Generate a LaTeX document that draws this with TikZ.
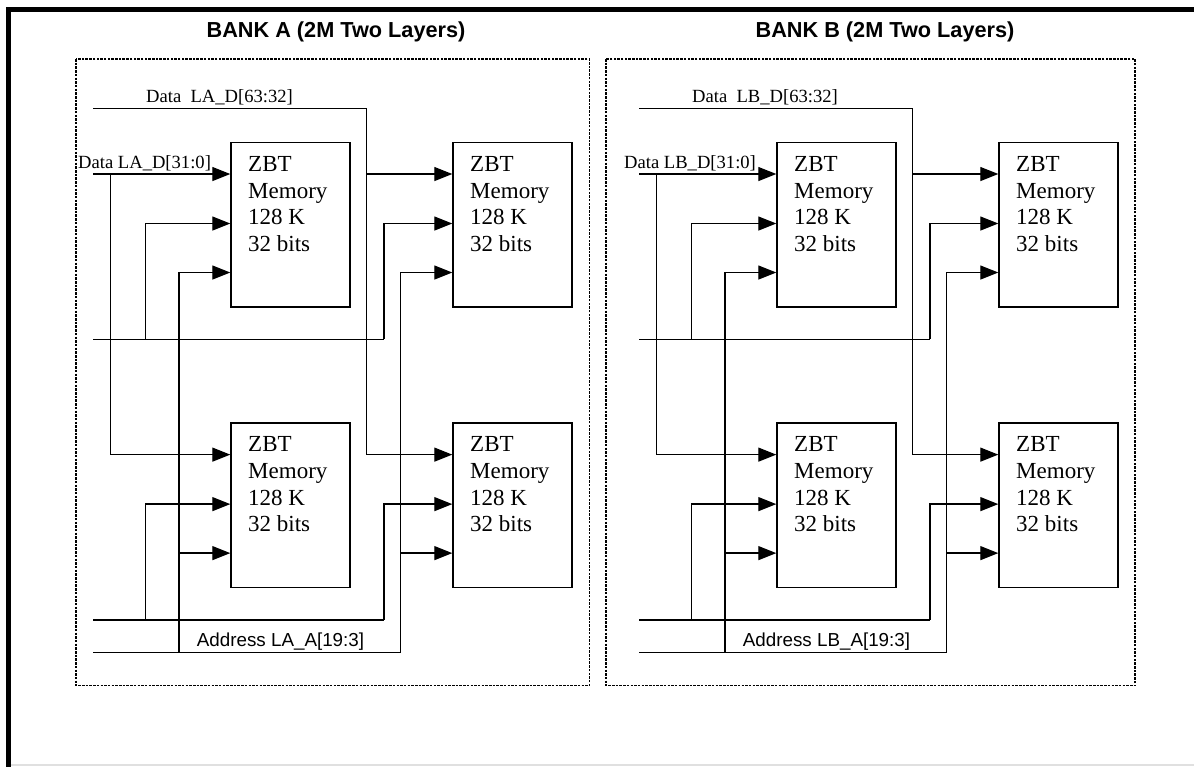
\documentclass[tikz,border=0pt]{standalone}
\usepackage{fontspec}
\setmainfont{Liberation Serif}
\setsansfont{Liberation Sans}
\usetikzlibrary{arrows.meta}
\tikzset{
  wire/.style={line width=1.3pt},
  sig/.style={wire, -{Triangle[length=18pt,width=14pt]}},
  membox/.style={draw, line width=1.3pt, minimum width=119pt, minimum height=164.5pt, inner sep=0pt, anchor=north west},
  memtxt/.style={anchor=base west, inner sep=0pt, font=\fontsize{23}{27}\selectfont},
  lbl/.style={anchor=base west, inner sep=0pt, font=\fontsize{18.6}{22}\selectfont},
  addr/.style={anchor=base west, inner sep=0pt, font=\sffamily\fontsize{18.8}{22}\selectfont},
  banktitle/.style={anchor=base, inner sep=0pt, font=\sffamily\bfseries\fontsize{21.7}{26}\selectfont},
  bankframe/.style={draw, line width=1.5pt, dash pattern=on 2.5pt off 1.2pt},
}
\newcommand\zbtbox[3]{%
  \node[membox] (#1) at (#2,#3) {};
  \node[memtxt] (#1t1) at (#2+17.7,#3+29.3) {ZBT};
  \node[memtxt] (#1t2) at (#2+17.7,#3+56.3) {Memory};
  \node[memtxt] (#1t3) at (#2+17.7,#3+82.8) {128 K};
  \node[memtxt] (#1t4) at (#2+17.7,#3+109.3) {32 bits};
  \coordinate (#1p1) at (#2,#3+32.3);
  \coordinate (#1p2) at (#2,#3+81.8);
  \coordinate (#1p3) at (#2,#3+130.8);
}
\newcommand\drawbank[3]{%
\begin{scope}[xshift=#2pt]
  \zbtbox{#1m1}{230.3}{141.7}
  \zbtbox{#1m2}{452.3}{141.7}
  \zbtbox{#1m3}{230.3}{422.3}
  \zbtbox{#1m4}{452.3}{422.3}
  \coordinate (#1dh) at (93.3,108.3);
  \coordinate (#1xh) at (366.7,0);
  \coordinate (#1dl) at (93.3,174.0);
  \coordinate (#1xl) at (110.7,0);
  \coordinate (#1a1) at (93.3,339.3);
  \coordinate (#1a1j) at (145.7,339.3);
  \coordinate (#1a1e) at (384,339.3);
  \coordinate (#1a2) at (93.3,620);
  \coordinate (#1a2j) at (145.7,620);
  \coordinate (#1a2e) at (384,620);
  \coordinate (#1a3) at (93.3,652.7);
  \coordinate (#1a3j) at (179,652.7);
  \coordinate (#1a3e) at (400.7,652.7);
  % data high
  \draw[sig] (#1dh) -| (#1xh |- #1m4p1) -- (#1m4p1);
  \draw[sig] (#1xh |- #1m2p1) -- (#1m2p1);
  % data low
  \draw[sig] (#1dl) -- (#1m1p1);
  \draw[sig] (#1xl |- #1m1p1) |- (#1m3p1);
  % address line 1
  \draw[wire] (#1a1) -- (#1a1e);
  \draw[sig] (#1a1j) |- (#1m1p2);
  \draw[sig] (#1a1e) |- (#1m2p2);
  % address line 2
  \draw[wire] (#1a2) -- (#1a2e);
  \draw[sig] (#1a2j) |- (#1m3p2);
  \draw[sig] (#1a2e) |- (#1m4p2);
  % address line 3
  \draw[wire] (#1a3) -- (#1a3e);
  \draw[sig] (#1a3j) |- (#1m1p3);
  \draw[sig] (#1a3j |- #1m3p3) -- (#1m3p3);
  \draw[sig] (#1a3e) |- (#1m2p3);
  \draw[sig] (#1a3e |- #1m4p3) -- (#1m4p3);
  % labels
  \node[lbl] (#1lh) at (146,102.3) {Data\ \ L#3\_D[63:32]};
  \node[lbl] (#1ll) at (78,168.3) {Data L#3\_D[31:0]};
  \node[addr] (#1al) at (196.7,646.7) {Address L#3\_A[19:3]};
\end{scope}
}
\begin{document}
\begin{tikzpicture}[x=1pt,y=-1pt]
\useasboundingbox (0,0) rectangle (1194,766);
\fill[white] (0,0) rectangle (1194,766);
% outer frame
\draw[line width=1.5pt, color=black!12] (11,765) -- (1194,765);
\draw[line width=5.3pt] (8.5,770) -- (8.5,9.8) -- (1200,9.8);
% bank frames
\draw[bankframe] (76,59) rectangle (589.3,685.7);
\draw[bankframe] (606,59) rectangle (1135,685.7);
% titles
\node[banktitle] (titleA) at (336,37.5) {BANK A (2M Two Layers)};
\node[banktitle] (titleB) at (885,37.5) {BANK B (2M Two Layers)};
\drawbank{A}{0}{A}
\drawbank{B}{546}{B}
\end{tikzpicture}
\end{document}
